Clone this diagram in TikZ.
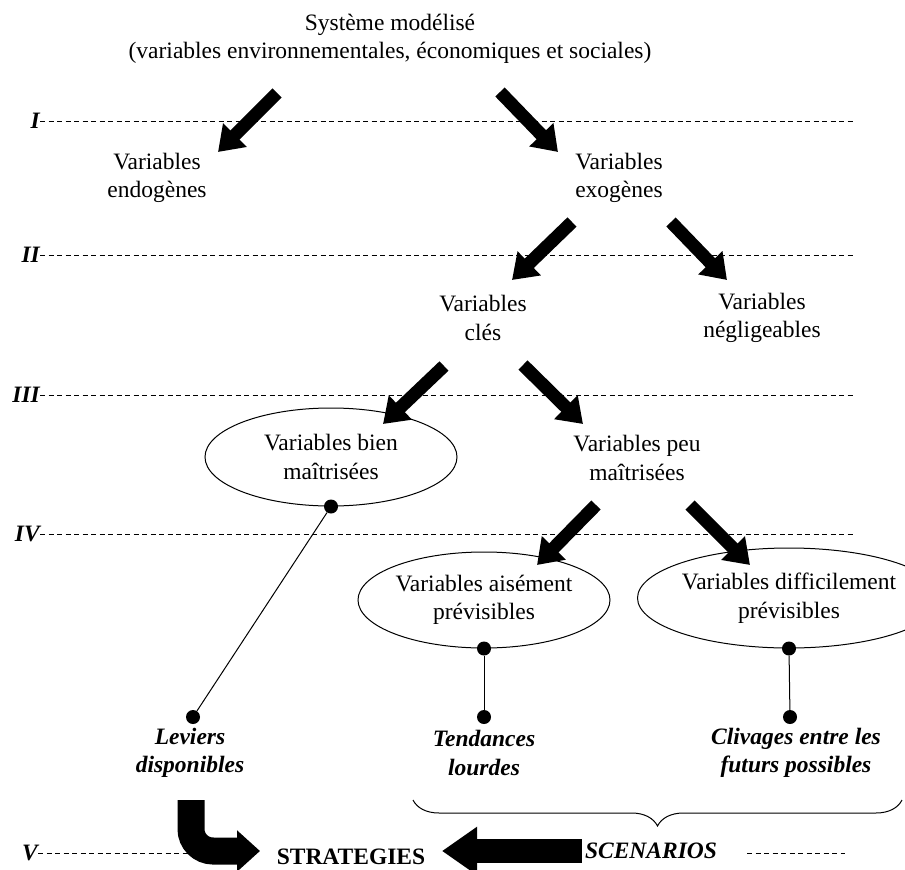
\documentclass[tikz,border=0pt]{standalone}
\usepackage{fontspec}
\setmainfont{Liberation Serif}
\usetikzlibrary{
	arrows.meta,
	shapes.geometric,
	decorations.pathreplacing
}
\tikzset{
	every node/.style={
		font=\fontsize{23.5}{28.5}\selectfont,
		align=center
	},
	varbox/.style={
		ellipse, draw, line width=1pt,
		minimum width=252pt, minimum height=98pt, inner sep=0pt
	},
	outcome/.style={
		font=\fontsize{23.5}{28.5}\selectfont\bfseries\itshape
	},
	lvl/.style={
		font=\fontsize{23.5}{28.5}\selectfont\bfseries\itshape,
		anchor=east, inner sep=0pt
	},
	pin/.style={circle, fill, inner sep=0pt, minimum size=14pt},
	sep/.style={line width=0.8pt, dash pattern=on 5pt off 3.5pt},
	link/.style={line width=1pt},
	fat/.style={
		line width=13pt,
		-{Triangle[length=24pt,width=32pt]}
	}
}

\begin{document}
\begin{tikzpicture}[x=1pt,y=-1pt]
	\useasboundingbox (0,0) rectangle (905,870);

	\node (sys)  at (390,39)  {Système modélisé\\(variables environnementales, économiques et sociales)};
	\node (endo) at (157,178) {Variables\\endogènes};
	\node (exo)  at (619,178) {Variables\\exogènes};
	\node (cle)  at (483,318) {Variables\\clés};
	\node (negl) at (762,318) {Variables\\négligeables};
	\node [varbox] (bien) at (331,457) {Variables bien\\maîtrisées};
	\node (peu)  at (637,458) {Variables peu\\maîtrisées};
	\node [varbox,minimum height=96pt] (aise) at (484,600) {Variables aisément\\prévisibles};
	\node [varbox,minimum width=250pt,minimum height=100pt] (diff) at (789,598) {Variables difficilement\\prévisibles};
	\node [outcome] (lev)  at (190,753) {Leviers\\disponibles};
	\node [outcome] (tend) at (484,753) {Tendances\\lourdes};
	\node [outcome] (cliv) at (796,753) {Clivages entre les\\futurs possibles};
	\node [font=\fontsize{23.5}{28.5}\selectfont\bfseries,anchor=base,inner sep=0pt] (strat) at (351,864) {STRATEGIES};
	\node [outcome] (scen) at (651,851) {SCENARIOS};

	\foreach \lab/\y in {I/121,II/255,III/395,IV/534} {
		\node [lvl] (lvl\lab) at (40,\y) {\lab};
		\coordinate (end\lab) at (853,\y);
		\draw [sep] (lvl\lab.east) -- (end\lab);
	}
	\node [lvl] (lvlV) at (38,853) {V};
	\coordinate (vA) at (195,853);
	\coordinate (vB) at (747,853);
	\coordinate (vC) at (845,853);
	\draw [sep] (lvlV.east) -- (vA);
	\draw [sep] (vB) -- (vC);

	\foreach \i/\a/\b/\c/\d in {1/277/93/218/152, 2/500/92/558/152, 3/572/222/512/280, 4/671/222/727/280,
		5/444/366/383/424, 6/523/365/583/424, 7/596/505/537/565, 8/690/505/750/565} {
		\coordinate (t\i) at (\a,\b);
		\coordinate (h\i) at (\c,\d);
		\draw [fat] (t\i) -- (h\i);
	}

	\node [pin] (pbien) at (bien.south) {};
	\node [pin] (paise) at (aise.south) {};
	\node [pin] (pdiff) at (diff.south) {};
	\node [pin] (plev)  at (193,717) {};
	\node [pin] (ptend) at (484,717) {};
	\node [pin] (pcliv) at (790,717) {};
	\draw [link] (pbien) -- (plev);
	\draw [link] (paise) -- (ptend);
	\draw [link] (pdiff) -- (pcliv);

	\coordinate (br1) at (902,800);
	\coordinate (br2) at (413,800);
	\draw [decorate,decoration={brace,amplitude=26pt},line width=1pt] (br1) -- (br2);

	\coordinate (hk) at (191,800);
	\coordinate (hkend) at (260,851);
	\draw [line width=27pt,-{Triangle[length=23pt,width=40pt]},rounded corners=22pt] (hk) |- (hkend);

	\coordinate (stip) at (442,851);
	\draw [line width=24pt,-{Triangle[length=35pt,width=46pt]}] (scen.west) -- (stip);
\end{tikzpicture}
\end{document}
